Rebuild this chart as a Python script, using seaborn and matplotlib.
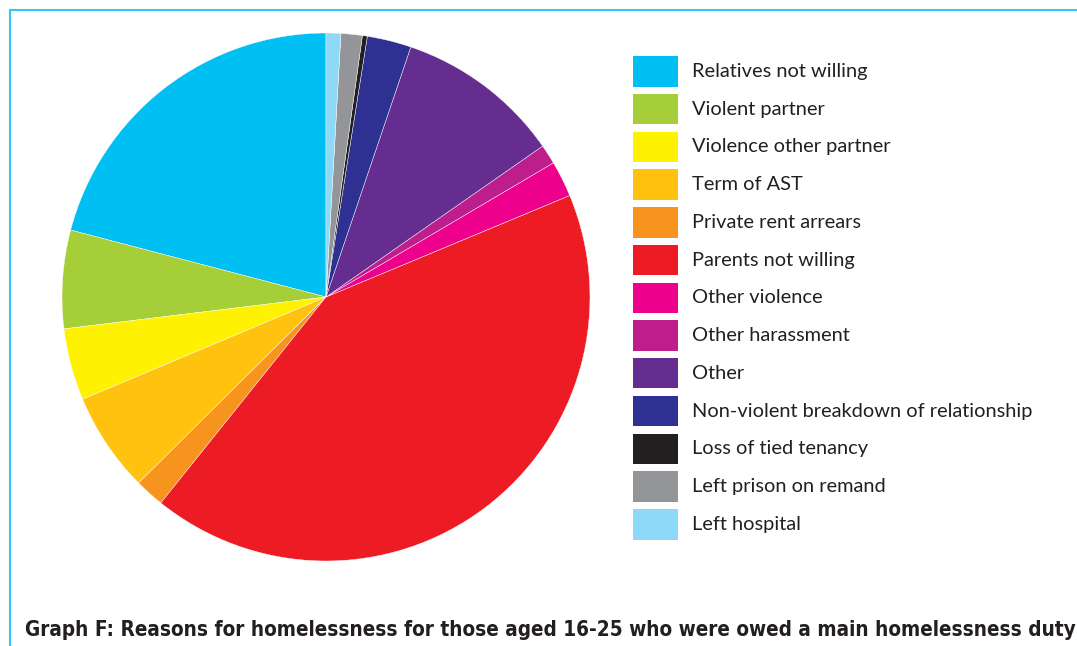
import matplotlib
matplotlib.use("Agg")
import matplotlib.pyplot as plt
from matplotlib.lines import Line2D
from matplotlib.patches import Rectangle
from matplotlib import font_manager as fm
import seaborn as sns

# ---- data ----
categories = [
    "Relatives not willing", "Violent partner", "Violence other partner",
    "Term of AST", "Private rent arrears", "Parents not willing",
    "Other violence", "Other harassment", "Other",
    "Non-violent breakdown of relationship", "Loss of tied tenancy",
    "Left prison on remand", "Left hospital",
]
shares = [20.9, 6.0, 4.4, 6.1, 1.8, 42.0, 2.2, 1.2, 10.1, 2.7, 0.3, 1.3, 0.9]
colors = ["#00BFF3", "#A6CE39", "#FFF200", "#FFC20E", "#F7941D", "#ED1C24",
          "#EC008C", "#BE1E8C", "#662D91", "#2E3192", "#231F20", "#939598",
          "#8ED8F8"]
title = "Graph F: Reasons for homelessness for those aged 16-25 who were owed a main homelessness duty"

sns.set_theme(style="white")
plt.rcParams["font.family"] = ["Lato", "DejaVu Sans"]
palette = sns.color_palette(colors)

W, H = 1077, 646
fig = plt.figure(figsize=(W / 100, H / 100), dpi=100)
fig.patch.set_facecolor("white")

cx, cy, r = 326, 297, 264
ax = fig.add_axes([(cx - r) / W, (H - cy - r) / H, 2 * r / W, 2 * r / H])
wedges, _ = ax.pie(shares, colors=palette, startangle=90, counterclock=True,
                   radius=1.0, wedgeprops=dict(edgecolor="white", linewidth=0.3))
ax.set_xlim(-1, 1)
ax.set_ylim(-1, 1)
ax.set_aspect("equal")
ax.axis("off")

# legend (manual layout)
sw_x, sw_w, sw_h, top0, step = 633, 45, 30.5, 56, 37.75
for i, (lab, col) in enumerate(zip(categories, palette)):
    top = top0 + i * step
    fig.add_artist(Rectangle((sw_x / W, 1 - (top + sw_h) / H), sw_w / W, sw_h / H,
                             transform=fig.transFigure, facecolor=col,
                             edgecolor="none"))
    fig.text(692 / W, 1 - (top + sw_h / 2 + 5.5) / H, lab, fontsize=14.4,
             color="#231F20", ha="left", va="baseline")

# frame lines
fig.add_artist(Line2D([10 / W, 1], [1 - 10 / H, 1 - 10 / H], color="#35C6F4", lw=1.5))
fig.add_artist(Line2D([10 / W, 10 / W], [1 - 10 / H, 0], color="#35C6F4", lw=1.5))

# title: prefer a condensed bold face if one is installed
cond = [f for f in fm.fontManager.ttflist
        if ("Narrow" in f.name or "Condensed" in f.name
            or f.stretch in ("condensed", "semi-condensed", "extra-condensed"))
        and (f.weight in ("bold", 700) or (isinstance(f.weight, int) and f.weight >= 600))]
if cond:
    fp = fm.FontProperties(fname=cond[0].fname)
else:
    fp = fm.FontProperties(family=["Lato", "DejaVu Sans"], weight="bold")
fp.set_size(17)
t = fig.text(25 / W, 1 - 636 / H, title, fontproperties=fp, color="#231F20",
             ha="left", va="baseline")
renderer = fig.canvas.get_renderer()
wpx = t.get_window_extent(renderer).width
target = 1050
if wpx > target:
    fp.set_size(17 * target / wpx)
    t.set_fontproperties(fp)

fig.savefig("out.png", dpi=100)
